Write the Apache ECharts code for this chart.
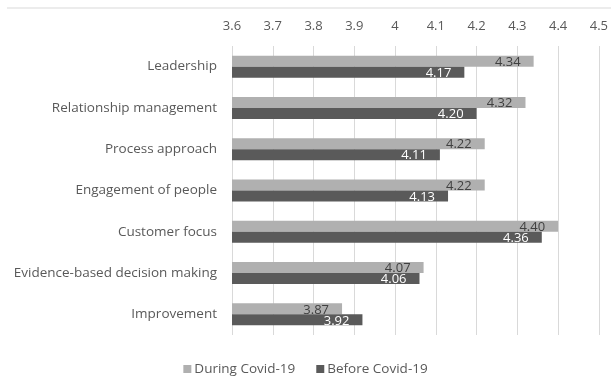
<!DOCTYPE html>
<html><head><meta charset="utf-8">
<script src="https://cdn.jsdelivr.net/npm/echarts@6/dist/echarts.min.js"></script>
<style>html,body{margin:0;padding:0;background:#fff}#c{width:611px;height:384px}</style>
</head><body><div id="c"></div>
<script>
const categories = ["Leadership","Relationship management","Process approach","Engagement of people","Customer focus","Evidence-based decision making","Improvement"];
const duringCovid = [4.34,4.32,4.22,4.22,4.40,4.07,3.87];
const beforeCovid = [4.17,4.20,4.11,4.13,4.36,4.06,3.92];
const seriesNames = ["During Covid-19","Before Covid-19"];
const font = "Open Sans";
const chart = echarts.init(document.getElementById('c'));
chart.setOption({
  animation:false,
  textStyle:{fontFamily:font},
  grid:{left:232,right:10,top:46,bottom:49},
  graphic:[{type:'line',shape:{x1:7,y1:8,x2:611,y2:8},style:{stroke:'#d9d9d9',lineWidth:1}}],
  legend:{top:357,left:'center',itemWidth:8,itemHeight:8,itemGap:21,icon:'rect',
    textStyle:{color:'#595959',fontSize:13.5,fontFamily:font,padding:[0,0,0,-2]},data:seriesNames},
  xAxis:{type:'value',position:'top',min:3.6,max:4.5,interval:0.1,
    axisLine:{show:false},axisTick:{show:false},
    axisLabel:{color:'#595959',fontSize:13,margin:13,formatter:v=>String(Math.round(v*10)/10)},
    splitLine:{lineStyle:{color:'#d9d9d9'}}},
  yAxis:{type:'category',inverse:true,data:categories,
    axisLine:{show:false},axisTick:{show:false},
    axisLabel:{color:'#595959',fontSize:13.5,margin:15}},
  series:[
    {name:seriesNames[0],type:'bar',data:duringCovid,barWidth:11,barGap:'0%',
     itemStyle:{color:'#b0b0b0'},
     label:{show:true,position:'insideRight',color:'#404040',fontSize:13,offset:[-8,1],formatter:p=>p.value.toFixed(2)}},
    {name:seriesNames[1],type:'bar',data:beforeCovid,barWidth:11,
     itemStyle:{color:'#5a5a5a'},
     label:{show:true,position:'insideRight',color:'#ffffff',fontSize:13,offset:[-8,1],formatter:p=>p.value.toFixed(2)}}
  ]
});
</script></body></html>
